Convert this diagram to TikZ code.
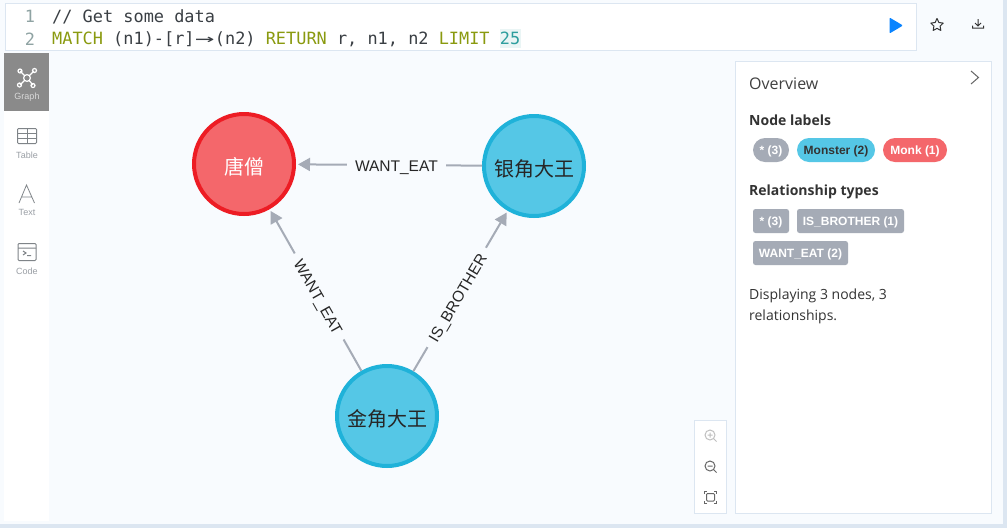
\documentclass[tikz,border=0pt]{standalone}
\usepackage{fontspec}
\setmainfont{Liberation Sans}
\newfontfamily\opensans{Open Sans}
\newfontfamily\monof{DejaVu Sans Mono}
\newfontfamily\cjk{Noto Sans CJK SC}
\usetikzlibrary{arrows.meta,shadows}
\definecolor{bgc}{HTML}{F8FBFE}
\definecolor{edgec}{HTML}{DCE6F1}
\definecolor{redf}{HTML}{F4676B}
\definecolor{redd}{HTML}{ED1C24}
\definecolor{bluef}{HTML}{55C7E6}
\definecolor{blued}{HTML}{1FB2D9}
\definecolor{arrowc}{HTML}{A5ABB6}
\definecolor{kw}{HTML}{8A9A0F}
\definecolor{numc}{HTML}{2E9E9E}
\definecolor{codec}{HTML}{3A3F44}
\definecolor{linec}{HTML}{8FA3A3}
\definecolor{sidetext}{HTML}{9A9FA5}
\definecolor{iconc}{HTML}{7F8488}
\definecolor{playc}{HTML}{0A84FF}
\tikzset{
  panel/.style={fill=white,draw=edgec,line width=.6pt},
  gnode/.style={circle,minimum size=100pt,inner sep=0pt,line width=4pt,text height=20pt,text depth=0pt,font=\cjk\fontsize{20}{20}\selectfont,text=black!85},
  monk/.style={gnode,fill=redf,draw=redd,text=white},
  monster/.style={gnode,fill=bluef,draw=blued},
  rel/.style={draw=arrowc,line width=2pt,-{Triangle[length=12pt,width=13pt]},shorten >=2pt},
  rellabel/.style={fill=bgc,inner sep=8pt,sloped,text height=13pt,text depth=0pt,font=\fontsize{15.5}{15.5}\selectfont,text=black!85},
  pill/.style={anchor=center,inner sep=0pt,rounded corners=12pt,minimum height=24pt,text height=9pt,text depth=.5pt,font=\bfseries\fontsize{12}{12}\selectfont,text=white},
  tagbox/.style={anchor=center,inner sep=0pt,rounded corners=2.5pt,minimum height=24pt,text height=9pt,text depth=.5pt,fill=arrowc,font=\bfseries\fontsize{12}{12}\selectfont,text=white},
  head/.style={anchor=west,inner sep=0pt,font=\opensans\bfseries\fontsize{14}{14}\selectfont,text=black!80},
  side/.style={inner sep=0pt,font=\fontsize{9}{9}\selectfont,text=sidetext},
  code/.style={anchor=west,inner sep=0pt,font=\monof\fontsize{16.9}{17}\selectfont,text=codec},
  lnum/.style={anchor=center,inner sep=0pt,font=\monof\fontsize{16.9}{17}\selectfont,text=linec},
  icon/.style={draw=iconc,line width=1pt},
}
\begin{document}
\begin{tikzpicture}[x=1pt,y=-1pt]
\useasboundingbox (0,0) rectangle (1007,528);
\fill[edgec] (0,0) rectangle (1007,528);
\fill[bgc] (0,0) rectangle (1003,524);
% editor
\draw[panel] (5,3) rectangle (916,50);
\node[lnum] (ln1) at (30,16.5) {1};
\node[lnum] (ln2) at (30,39) {2};
\fill[numc!10] (499.5,29) rectangle (520.5,48);
\node[code] (c1) at (52,16.5) {// Get some data};
\node[code] (c2) at (52,39.5) {\textcolor{kw}{MATCH} (n1)-[r]\makebox[20.3pt]{\scalebox{1.9}[1]{→}}(n2) \textcolor{kw}{RETURN} r, n1, n2 \textcolor{kw}{LIMIT} \textcolor{numc}{25}};
% play, star, download
\fill[playc,rounded corners=1pt] (889.5,17.5) -- (903,25.5) -- (889.5,33.5) -- cycle;
\draw[black!80,line width=1pt,line join=round] (937.0,18.5) -- (938.9,22.5) -- (943.2,23.1) -- (940.1,26.1) -- (940.8,30.4) -- (937,28.4) -- (933.2,30.4) -- (933.9,26.1) -- (930.8,23.1) -- (935.1,22.5) -- cycle;
\draw[black!80,line width=1pt] (978,19) -- (978,25.5) (975,23) -- (978,26) -- (981,23) (972.5,25.5) -- (972.5,28) -- (983.5,28) -- (983.5,25.5);
% sidebar
\fill[white] (4,53) rectangle (49,521);
\fill[black!46] (4,53) rectangle (49,111);
\begin{scope}[white,line width=1.2pt]
\draw (27,78) -- (20,71) (27,78) -- (34,71) (27,78) -- (20,85) (27,78) -- (33,85);
\fill[black!46] (27,78) circle (3.4pt);
\draw (27,78) circle (3.4pt) (20,71) circle (2pt) (34.5,70.5) circle (2pt) (19.5,85) circle (2pt) (33,85.5) circle (2pt);
\end{scope}
\node[side,text=white!85!black] (sg) at (27,97) {Graph};
\draw[icon,rounded corners=1pt] (17.5,128.5) rectangle (36.5,143.5);
\draw[icon] (17.5,133.5) -- (36.5,133.5) (17.5,138.5) -- (36.5,138.5) (27,128.5) -- (27,143.5);
\node[side] (st) at (27,155) {Table};
\draw[iconc,line width=.8pt] (19,203) -- (26.5,185) -- (34.5,203) (21.5,197) -- (32,197);
\node[side] (sx) at (27,212) {Text};
\draw[icon,rounded corners=1pt] (18,243.5) rectangle (36,260.5);
\draw[icon] (18,248) -- (36,248) (23,251) -- (26,253) -- (23,255) (27,255.5) -- (31,255.5);
\node[side] (sc) at (27,271) {Code};
% graph
\node[monk] (ts) at (244,164) {唐僧};
\node[monster] (yj) at (534,166) {银角大王};
\node[monster] (jj) at (387,416) {金角大王};
\draw[rel] (yj) -- node[rellabel,pos=.46] (l1) {WANT\_EAT} (ts);
\draw[rel] (jj) -- node[rellabel,pos=.46] (l2) {WANT\_EAT} (ts);
\draw[rel] (jj) -- node[rellabel,pos=.46] (l3) {IS\_BROTHER} (yj);
% overview panel
\fill[white,draw=edgec,line width=.5pt] (735,61) rectangle (991,513);
\node[anchor=west,inner sep=0pt,font=\opensans\fontsize{16}{16}\selectfont,text=black!75] (ov) at (749,84) {Overview};
\draw[black!60,line width=1pt] (971,71) -- (978.5,77.5) -- (971,84);
\node[head] (nl) at (749,120.5) {Node labels};
\node[pill,fill=arrowc,minimum width=36pt] (p1) at (771,150) {* (3)};
\node[pill,fill=bluef,minimum width=78pt,text=black!80] (p2) at (836,150) {Monster (2)};
\node[pill,fill=redf,minimum width=64pt] (p3) at (915,150) {Monk (1)};
\node[head] (rt) at (749,192) {Relationship types};
\node[tagbox,minimum width=36pt] (r1) at (771,221) {* (3)};
\node[tagbox,minimum width=107pt] (r2) at (850.5,221) {IS\_BROTHER (1)};
\node[tagbox,minimum width=95pt] (r3) at (800.5,253) {WANT\_EAT (2)};
\node[anchor=north west,inner sep=0pt,align=left,font=\opensans\fontsize{14}{21}\selectfont,text=black!80] (ds) at (749,289) {Displaying 3 nodes, 3\\relationships.};
% zoom panel
\fill[white,draw=edgec,line width=.5pt] (694,420) rectangle (726,513);
\begin{scope}[line width=1pt]
\draw[black!25] (710,435) circle (5pt) (713.7,438.7) -- (716.5,441.5) (707.5,435) -- (712.5,435) (710,432.5) -- (710,437.5);
\draw[black!60] (710,466) circle (5pt) (713.7,469.7) -- (716.5,472.5) (707.5,466) -- (712.5,466);
\draw[black!60,rounded corners=1pt] (706.5,493.5) rectangle (714.5,501);
\draw[black!60] (704.5,494) -- (704.5,491.5) -- (707,491.5) (714,491.5) -- (716.5,491.5) -- (716.5,494) (716.5,500.5) -- (716.5,503) -- (714,503) (707,503) -- (704.5,503) -- (704.5,500.5);
\end{scope}
\end{tikzpicture}
\end{document}
